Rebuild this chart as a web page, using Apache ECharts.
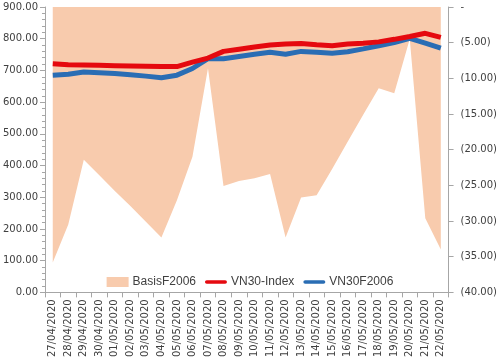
<!DOCTYPE html>
<html>
<head>
<meta charset="utf-8">
<script src="https://cdn.jsdelivr.net/npm/echarts@6/dist/echarts.min.js"></script>
<style>html,body{margin:0;padding:0;background:#fff;}#c{width:500px;height:360px;}</style>
</head>
<body>
<div id="c"></div>
<script>
const categories = ['27/04/2020','28/04/2020','29/04/2020','30/04/2020','01/05/2020','02/05/2020','03/05/2020','04/05/2020','05/05/2020','06/05/2020','07/05/2020','08/05/2020','09/05/2020','10/05/2020','11/05/2020','12/05/2020','13/05/2020','14/05/2020','15/05/2020','16/05/2020','17/05/2020','18/05/2020','19/05/2020','20/05/2020','21/05/2020','22/05/2020'];
const basis = [-35.8,-30.5,-21.4,-23.6,-25.8,-27.9,-30.1,-32.3,-27.1,-21.0,-8.6,-25.1,-24.4,-24.0,-23.4,-32.3,-26.7,-26.4,-22.7,-18.9,-15.1,-11.4,-12.1,-4.5,-29.6,-34.0];
const vn30Index = [721,718,717,716,715,714,713,712,712,726,739,760,767,774,780,783,785,781,778,783,786,790,798,807,817,804];
const vn30F = [685,688,695,693,690,686,682,677,685,706,737,737,744,751,757,751,760,757,754,759,768,778,788,801,786,770];

const chart = echarts.init(document.getElementById('c'));
const axisCol = '#a6a6a6';
const txtCol = '#404040';
const lineIcon = 'path://M2,0 L22,0 A2,2 0 0 1 22,4 L2,4 A2,2 0 0 1 2,0 Z';
chart.setOption({
  animation: false,
  textStyle: {fontFamily: 'DejaVu Sans'},
  grid: {left: 44, right: 48, top: 7, bottom: 61},
  legend: {
    top: 271, left: 'center',
    itemGap: 9, itemWidth: 22, itemHeight: 10,
    textStyle: {fontFamily: 'Liberation Sans', fontSize: 12, color: txtCol, padding: [0,0,0,-1]},
    data: [
      {name: 'BasisF2006', icon: 'rect'},
      {name: 'VN30-Index', icon: lineIcon},
      {name: 'VN30F2006', icon: lineIcon}
    ]
  },
  xAxis: {
    type: 'category', data: categories, boundaryGap: true,
    axisLine: {lineStyle: {color: axisCol}},
    axisTick: {show: true, length: 5, lineStyle: {color: axisCol}},
    axisLabel: {rotate: 90, interval: 0, fontSize: 10, color: txtCol, margin: 7}
  },
  yAxis: [
    {
      type: 'value', min: 0, max: 900, interval: 100, position: 'left',
      axisLine: {show: true, lineStyle: {color: axisCol}},
      axisTick: {show: true, length: 5, lineStyle: {color: axisCol}},
      minorTick: {show: true, splitNumber: 5, length: 3, lineStyle: {color: axisCol}},
      splitLine: {show: false},
      axisLabel: {fontSize: 10, color: txtCol, margin: 7, formatter: v => v.toFixed(2)}
    },
    {
      type: 'value', min: -40, max: 0, interval: 5, position: 'right',
      axisLine: {show: true, lineStyle: {color: axisCol}},
      axisTick: {show: true, length: 5, lineStyle: {color: axisCol}},
      splitLine: {show: false},
      axisLabel: {fontSize: 10, color: txtCol, margin: 12, formatter: v => v === 0 ? '-' : '(' + Math.abs(v).toFixed(2) + ')'}
    }
  ],
  series: [
    {
      name: 'BasisF2006', type: 'line', yAxisIndex: 1, data: basis,
      symbol: 'none', itemStyle: {color: '#f8cbad'},
      lineStyle: {width: 0, color: '#f8cbad'},
      areaStyle: {color: '#f8cbad', opacity: 1}, z: 1
    },
    {
      name: 'VN30-Index', type: 'line', yAxisIndex: 0, data: vn30Index,
      symbol: 'none', itemStyle: {color: '#e5090f'},
      lineStyle: {width: 5, color: '#e5090f'}, z: 3
    },
    {
      name: 'VN30F2006', type: 'line', yAxisIndex: 0, data: vn30F,
      symbol: 'none', itemStyle: {color: '#2a6db4'},
      lineStyle: {width: 5, color: '#2a6db4'}, z: 2
    }
  ]
});
</script>
</body>
</html>
